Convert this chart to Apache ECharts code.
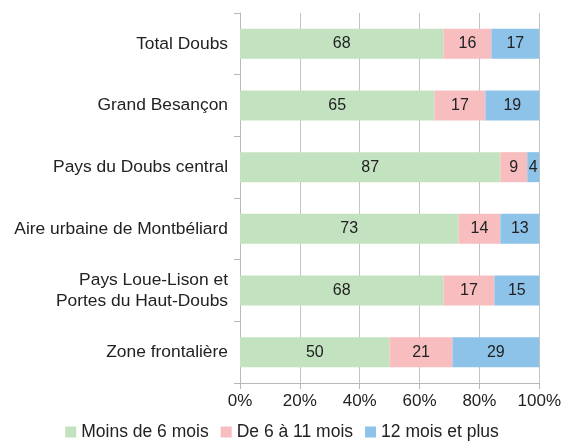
<!DOCTYPE html>
<html>
<head>
<meta charset="UTF-8">
<title>Ancienneté</title>
<script src="https://cdn.jsdelivr.net/npm/echarts@6/dist/echarts.min.js"></script>
<style>
	body { margin: 0; background: #fff; }
	#charts { width: 564px; height: 444px; }
</style>
</head>
<body>
<div id="charts"></div>
<script type="text/javascript">

	// categories, from bottom to top (echarts category axis goes upward)
	var categories = ['Zone frontalière', 'Pays Loue-Lison et\nPortes du Haut-Doubs',
		'Aire urbaine de Montbéliard', 'Pays du Doubs central', 'Grand Besançon', 'Total Doubs'];
	var moins6 = [50, 68, 73, 87, 65, 68];
	var de6a11 = [21, 17, 14, 9, 17, 16];
	var plus12 = [29, 15, 13, 4, 19, 17];
	var seriesNames = ['Moins de 6 mois', 'De 6 à 11 mois', '12 mois et plus'];
	var colors = ['#c3e2c0', '#f7bdbf', '#8ec3e9'];

	function serie(name, data, color) {
		return {
			name : name,
			type : 'bar',
			stack : 'total',
			barWidth : 30,
			itemStyle : { color : color },
			label : {
				show : true,
				position : 'inside',
				color : '#222',
				fontSize : 16,
				fontFamily : 'Liberation Sans'
			},
			data : data
		};
	}

	var chart = echarts.init(document.getElementById('charts'));
	var option = {
		animation : false,
		textStyle : { fontFamily : 'Liberation Sans' },
		color : colors,
		grid : {
			left : 240,
			right : 22,
			top : 13,
			bottom : 61
		},
		legend : {
			bottom : -2,
			left : 'center',
			itemWidth : 11,
			itemHeight : 11,
			itemGap : 12,
			icon : 'rect',
			textStyle : { fontSize : 17.5, color : '#222' },
			data : seriesNames
		},
		xAxis : {
			type : 'value',
			min : 0,
			max : 100,
			interval : 20,
			axisLine : { show : true, lineStyle : { color : '#b8b8b8' } },
			axisTick : { show : true, inside : false, length : 6, lineStyle : { color : '#b8b8b8' } },
			splitLine : { show : true, lineStyle : { color : '#c4c4c4' } },
			axisLabel : {
				formatter : '{value}%',
				fontSize : 17,
				color : '#222',
				margin : 10
			}
		},
		yAxis : {
			type : 'category',
			data : categories,
			axisLine : { show : true, lineStyle : { color : '#b8b8b8' } },
			axisTick : { show : true, length : 6, lineStyle : { color : '#b8b8b8' } },
			axisLabel : {
				fontSize : 17.4,
				color : '#222',
				margin : 12,
				lineHeight : 21,
				align : 'right'
			}
		},
		series : [
			serie(seriesNames[0], moins6, colors[0]),
			serie(seriesNames[1], de6a11, colors[1]),
			serie(seriesNames[2], plus12, colors[2])
		]
	};
	chart.setOption(option);
</script>
</body>
</html>
